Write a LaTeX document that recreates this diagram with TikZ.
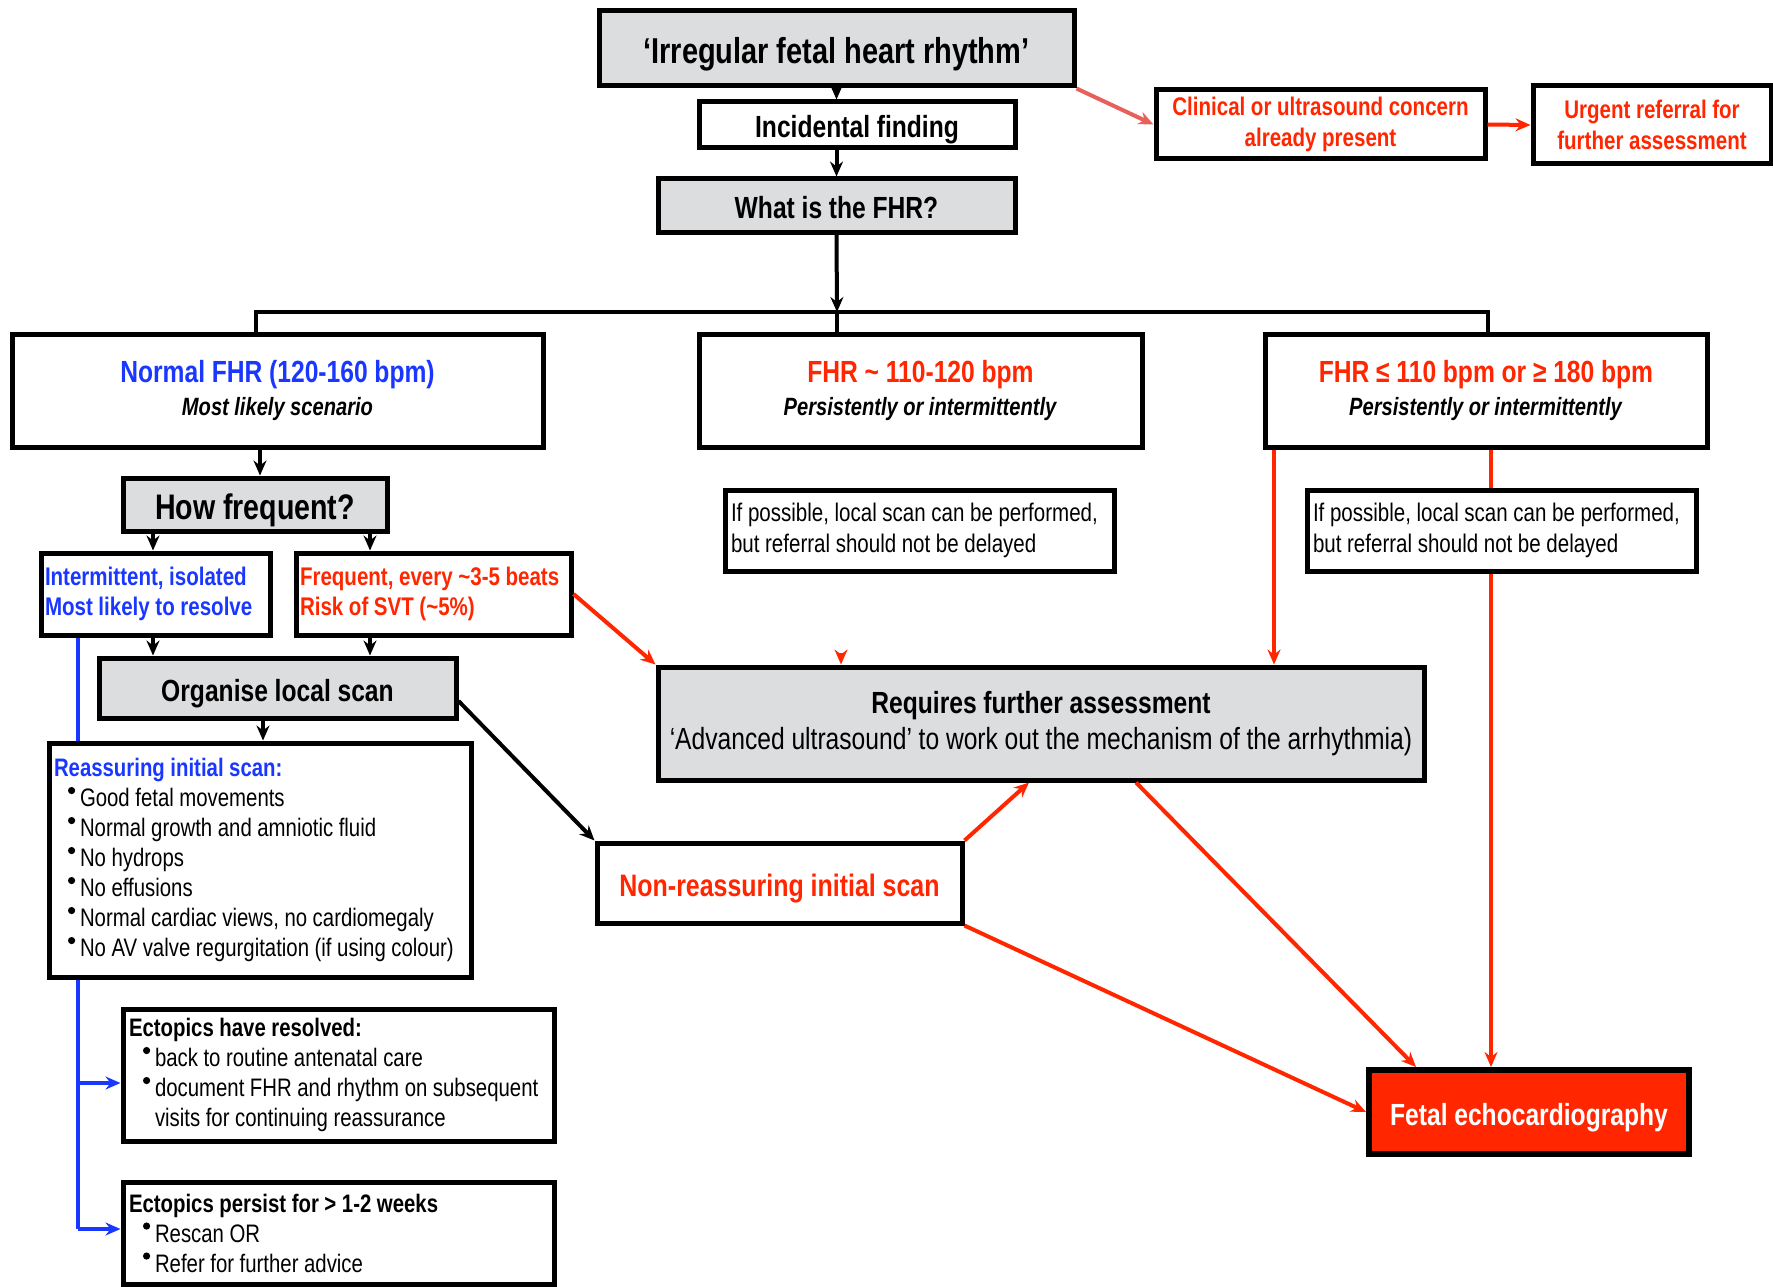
\documentclass[tikz,border=0pt]{standalone}
\usepackage{fontspec}
\setmainfont[FakeStretch=0.805]{Liberation Sans}
\usetikzlibrary{arrows.meta}
\definecolor{boxgray}{RGB}{220,221,223}
\definecolor{fred}{RGB}{255,38,0}
\definecolor{fblue}{RGB}{25,55,255}
\definecolor{lred}{RGB}{232,96,90}
\pgfdeclarelayer{bg}
\pgfsetlayers{bg,main}
\newcommand{\fsz}[2]{\fontsize{#1pt}{#2pt}\selectfont\spaceskip=0.22em\relax}
\newcommand{\oneln}[1]{\mbox{#1}}
\newcommand{\bitem}{\hspace*{14pt}\makebox[12pt][l]{\tikz[baseline=0pt]\fill[black] (3.5pt,16pt) circle[radius=3.6pt];}}
\begin{document}
\begin{tikzpicture}[x=1pt,y=-1pt,
  box/.style={draw=black, line width=5pt, fill=white, inner xsep=3pt, inner ysep=0pt, align=flush center},
  gbox/.style={box, fill=boxgray},
  lbox/.style={box, align=flush left, inner xsep=5pt},
  one/.style={text height=#1, text depth=0pt},
  conn/.style={line width=4pt},
  arr/.style={conn, -{Stealth[length=15pt,width=13pt,inset=5pt]}},
  barr/.style={arr, black},
  rarr/.style={arr, fred},
  bluel/.style={conn, fblue},
  barrb/.style={arr, fblue}
]
\useasboundingbox (0,0) rectangle (1773,1287);

% column / row helper coordinates
\coordinate (x78) at (78,0);
\coordinate (x153) at (153,0);
\coordinate (x260) at (260,0);
\coordinate (x263) at (263,0);
\coordinate (x370) at (370,0);
\coordinate (x1029) at (1029,0);
\coordinate (x1136) at (1136,0);
\coordinate (x1274) at (1274,0);
\coordinate (x1416) at (1416,0);
\coordinate (x1491) at (1491,0);
\coordinate (yres) at (0,1083);
\coordinate (ypers) at (0,1229);
\coordinate (bar) at (837,312);
\coordinate (barL) at (256,312);
\coordinate (barR) at (1488,312);
\coordinate (stray) at (841,653);

% nodes
\node[gbox, one=29.5pt, font=\fsz{36}{40}\bfseries, text width=469pt, minimum height=75pt] (title) at (836.5,48.5)
  {‘Irregular fetal heart rhythm’};
\node[box, one=26pt, font=\fsz{30.6}{34}\bfseries, text width=310pt, minimum height=46pt] (incid) at (857,125)
  {Incidental finding};
\node[gbox, one=26pt, font=\fsz{30.6}{34}\bfseries, text width=351pt, minimum height=53pt] (fhrq) at (836.5,205.5)
  {What is the FHR?};
\node[box, font=\fsz{25.5}{30.5}\bfseries, text=fred, text width=323pt, minimum height=69pt] (clin) at (1320.5,124.5)
  {Clinical or ultrasound concern\\already present\par};
\node[box, font=\fsz{25.5}{30.5}\bfseries, text=fred, text width=232pt, minimum height=78pt] (urg) at (1652,125)
  {Urgent referral for\\further assessment\par};

\node[box, font=\fsz{25}{33}, text width=525pt, minimum height=113pt] (normal) at (277.5,390.5)
  {{\fsz{30.6}{33}\bfseries\color{fblue}Normal FHR (120-160 bpm)}\\\textbf{\textit{Most likely scenario}}\par};
\node[box, font=\fsz{25}{33}, text width=437pt, minimum height=113pt] (mid) at (920.5,390.5)
  {{\fsz{30.6}{33}\bfseries\color{fred}FHR \textasciitilde{} 110-120 bpm}\\\textbf{\textit{Persistently or intermittently}}\par};
\node[box, font=\fsz{25}{33}, text width=436pt, minimum height=113pt] (low) at (1486,390.5)
  {{\fsz{30.6}{33}\bfseries\color{fred}FHR ≤ 110 bpm or ≥ 180 bpm}\\\textbf{\textit{Persistently or intermittently}}\par};

\node[gbox, one=29.5pt, font=\fsz{35.5}{38}\bfseries, text width=258pt, minimum height=53pt] (howf) at (255,504.5)
  {How frequent?};
\node[lbox, inner xsep=4pt, font=\fsz{25.5}{30.5}\bfseries, text=fblue, text width=221pt, minimum height=82pt] (inter) at (155.5,594)
  {\oneln{Intermittent, isolated}\\\oneln{Most likely to resolve}\par};
\node[lbox, inner xsep=4pt, font=\fsz{25.5}{30.5}\bfseries, text=fred, text width=267pt, minimum height=82pt] (freq) at (433.5,594)
  {\oneln{Frequent, every \textasciitilde3-5 beats}\\\oneln{Risk of SVT (\textasciitilde5\%)}\par};
\node[gbox, one=26pt, font=\fsz{30.6}{34}\bfseries, text width=351pt, minimum height=60pt] (org) at (277.5,688)
  {Organise local scan};

\node[lbox, font=\fsz{25.3}{30}, text width=412pt, minimum height=234pt] (reas) at (260,860)
  {\oneln{\bfseries\color{fblue}Reassuring initial scan:}\\
   \oneln{\bitem Good fetal movements}\\
   \oneln{\bitem Normal growth and amniotic fluid}\\
   \oneln{\bitem No hydrops}\\
   \oneln{\bitem No effusions}\\
   \oneln{\bitem Normal cardiac views, no cardiomegaly}\\
   \oneln{\bitem No AV valve regurgitation (if using colour)}\par};
\node[lbox, inner xsep=6pt, font=\fsz{25.3}{30}, text width=419pt, minimum height=132pt] (res) at (338.5,1075)
  {\oneln{\bfseries Ectopics have resolved:}\\
   \oneln{\bitem back to routine antenatal care}\\
   \oneln{\bitem document FHR and rhythm on subsequent}\\
   \oneln{\hspace*{26pt}visits for continuing reassurance}\par};
\node[lbox, inner xsep=6pt, font=\fsz{25.3}{30}, text width=419pt, minimum height=102pt] (pers) at (338.5,1233)
  {\oneln{\bfseries Ectopics persist for > 1-2 weeks}\\
   \oneln{\bitem Rescan OR}\\
   \oneln{\bitem Refer for further advice}\par};

\node[lbox, inner xsep=6pt, font=\fsz{25.5}{30.5}, text width=377pt, minimum height=81pt] (ifmid) at (919.5,530.5)
  {\oneln{If possible, local scan can be performed,}\\\oneln{but referral should not be delayed}\par};
\node[lbox, inner xsep=6pt, font=\fsz{25.5}{30.5}, text width=377pt, minimum height=81pt] (iflow) at (1501.5,530.5)
  {\oneln{If possible, local scan can be performed,}\\\oneln{but referral should not be delayed}\par};

\node[gbox, font=\fsz{30.6}{36}, text width=760pt, minimum height=113pt] (req) at (1041,723.5)
  {{\bfseries Requires further assessment}\\\oneln{‘Advanced ultrasound’ to work out the mechanism of the arrhythmia)}\par};
\node[box, one=26.5pt, font=\fsz{31}{34}\bfseries, text=fred, text width=359pt, minimum height=80pt] (nonr) at (779.5,883)
  {Non-reassuring initial scan};
\node[box, one=26pt, font=\fsz{30.6}{34}\bfseries, text=white, line width=6pt, fill=fred, text width=314pt, minimum height=84pt] (echo) at (1529,1112)
  {Fetal echocardiography};

% background: white page and the blue line that passes behind the reassuring box
\begin{pgfonlayer}{bg}
\fill[white] (0,0) rectangle (1773,1287);
\draw[bluel] (inter.south -| x78) -- (x78 |- ypers);
\end{pgfonlayer}

% black flow
\draw[barr] (title.south) -- (title.south |- incid.north);
\draw[barr] (fhrq.north |- incid.south) -- (fhrq.north);
\draw[barr] (fhrq.south) -- (bar);
\draw[conn] (barL |- normal.north) -- (barL) -- (barR) -- (barR |- low.north);
\draw[conn] (bar) -- (bar |- mid.north);
\draw[barr] (normal.south -| x260) -- (howf.north -| x260);
\draw[barr] (howf.south -| x153) -- (inter.north -| x153);
\draw[barr] (howf.south -| x370) -- (freq.north -| x370);
\draw[barr] (inter.south -| x153) -- (org.north -| x153);
\draw[barr] (freq.south -| x370) -- (org.north -| x370);
\draw[barr] (org.south -| x263) -- (reas.north -| x263);
\draw[barr] ([yshift=-13pt]org.east) -- (nonr.north west);

% blue branches
\draw[barrb] (x78 |- yres) -- (res.west |- yres);
\draw[barrb] (x78 |- ypers) -- (pers.west |- ypers);

% red flow
\draw[arr, lred] (title.south east) -- (clin.west);
\draw[rarr] (clin.east) -- (urg.west);
\draw[rarr] (freq.east) -- (req.north west);
\draw[rarr] (stray) -- (req.north -| stray);
\draw[rarr] (low.south -| x1274) -- (req.north -| x1274);
\draw[conn, fred] (low.south -| x1491) -- (iflow.north -| x1491);
\draw[rarr] (iflow.south -| x1491) -- (echo.north -| x1491);
\draw[rarr] (nonr.north east) -- (req.south -| x1029);
\draw[rarr] (req.south -| x1136) -- (echo.north -| x1416);
\draw[rarr] (nonr.south east) -- (echo.west);
\end{tikzpicture}
\end{document}
